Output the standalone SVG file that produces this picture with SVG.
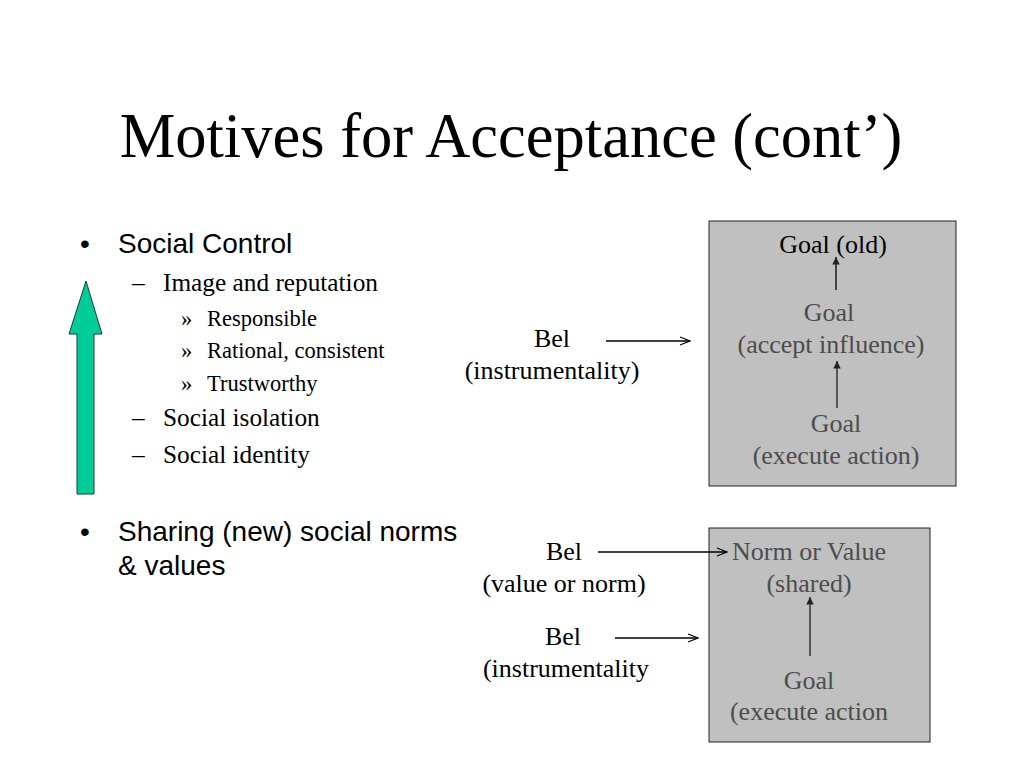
<svg xmlns="http://www.w3.org/2000/svg" width="1024" height="768" viewBox="0 0 1024 768">
<defs>
<style>
.serif{font-family:"Liberation Serif","Times New Roman",serif;}
.sans{font-family:"Liberation Sans",Arial,sans-serif;}
.title{font-size:62.5px;fill:#000;}
.l1{font-size:28px;fill:#000;}
.l2{font-size:25.3px;fill:#000;}
.l3{font-size:22.5px;fill:#000;}
.lbl{font-size:26px;fill:#000;text-anchor:middle;}
.gray{fill:#4d4d4d;}
.box{fill:#c0c0c0;stroke:#222;stroke-width:1;}
.ln{stroke:#000;stroke-width:1.3;fill:none;}
.lg{stroke:#333;stroke-width:1.5;fill:none;}
</style>
<marker id="open" viewBox="0 0 12 10" refX="11" refY="5" markerWidth="12" markerHeight="10" markerUnits="userSpaceOnUse" orient="auto">
<path d="M1,1 L11,5 L1,9" fill="none" stroke="#000" stroke-width="1.2"/>
</marker>
<marker id="fill" viewBox="0 0 10 12" refX="10" refY="5" markerWidth="12" markerHeight="9" markerUnits="userSpaceOnUse" orient="auto">
<path d="M0,0 L10,5 L0,10 Z" fill="#222"/>
</marker>
</defs>
<rect width="1024" height="768" fill="#fff"/>
<text class="serif title" x="511" y="157" text-anchor="middle">Motives for Acceptance (cont’)</text>

<g id="bullets">
<text class="sans l1" x="80" y="253">•</text>
<text class="sans l1" x="118" y="253">Social Control</text>
<text class="serif l2" x="132" y="291">–</text>
<text class="serif l2" x="163" y="291">Image and reputation</text>
<text class="serif l3" x="181" y="326">»</text>
<text class="serif l3" x="207" y="326">Responsible</text>
<text class="serif l3" x="181" y="358">»</text>
<text class="serif l3" x="207" y="358">Rational, consistent</text>
<text class="serif l3" x="181" y="391">»</text>
<text class="serif l3" x="207" y="391">Trustworthy</text>
<text class="serif l2" x="132" y="426">–</text>
<text class="serif l2" x="163" y="426">Social isolation</text>
<text class="serif l2" x="132" y="463">–</text>
<text class="serif l2" x="163" y="463">Social identity</text>
<text class="sans l1" x="80" y="541">•</text>
<text class="sans l1" x="118" y="541">Sharing (new) social norms</text>
<text class="sans l1" x="118" y="575">&amp; values</text>
</g>

<g id="green-arrow">
<path d="M86,281 L102,334 L94,334 L94,494 L77,494 L77,334 L69,334 Z" fill="#00cc99" stroke="#1a3d33" stroke-width="1"/>
</g>

<g id="box-top">
<rect class="box" x="709" y="221" width="247" height="265"/>
</g>
<g id="goal-old"><text class="serif lbl" x="833" y="253">Goal (old)</text></g>
<g id="goal-accept"><text class="serif lbl gray" x="829" y="321">Goal</text><text class="serif lbl gray" x="831" y="353">(accept influence)</text></g>
<g id="goal-execute-1"><text class="serif lbl gray" x="836" y="432">Goal</text><text class="serif lbl gray" x="836" y="464">(execute action)</text></g>
<g id="bel-instr-1"><text class="serif lbl" x="552" y="347">Bel</text><text class="serif lbl" x="552" y="379">(instrumentality)</text></g>

<g id="box-bottom">
<rect class="box" x="709" y="528" width="221" height="214"/>
</g>
<g id="norm-value"><text class="serif lbl gray" x="809" y="560">Norm or Value</text><text class="serif lbl gray" x="809" y="592">(shared)</text></g>
<g id="goal-execute-2"><text class="serif lbl gray" x="809" y="689">Goal</text><text class="serif lbl gray" x="809" y="720">(execute action</text></g>
<g id="bel-value"><text class="serif lbl" x="564" y="560">Bel</text><text class="serif lbl" x="564" y="592">(value or norm)</text></g>
<g id="bel-instr-2"><text class="serif lbl" x="563" y="645">Bel</text><text class="serif lbl" x="566" y="677">(instrumentality</text></g>

<g id="connectors">
<line class="ln" x1="836" y1="290" x2="836" y2="257" marker-end="url(#fill)"/>
<line class="lg" x1="837" y1="408" x2="837" y2="361" marker-end="url(#fill)"/>
<line class="ln" x1="606" y1="341" x2="690" y2="341" marker-end="url(#open)"/>
<line class="lg" x1="810" y1="656" x2="810" y2="597" marker-end="url(#fill)"/>
<line class="ln" x1="598" y1="552" x2="727" y2="552" marker-end="url(#open)"/>
<line class="ln" x1="615" y1="638" x2="698" y2="638" marker-end="url(#open)"/>
</g>
</svg>
